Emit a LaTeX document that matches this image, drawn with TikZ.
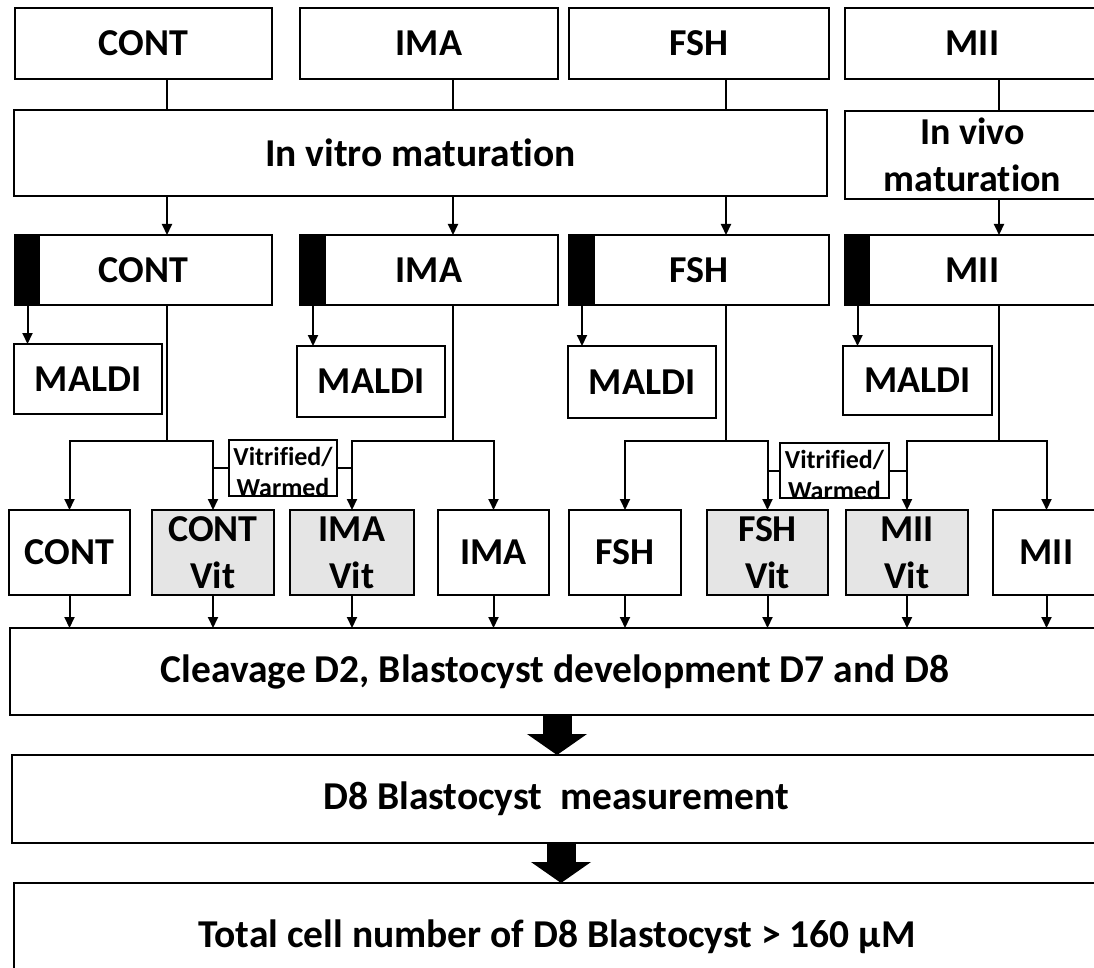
\documentclass[tikz,border=0pt]{standalone}
\usepackage{fontspec}
\setmainfont{Carlito}[Ligatures=CommonOff]
\usetikzlibrary{arrows.meta}
\newcommand{\bx}[7][]{\node[box,#1,minimum width={(#5-#3)*1pt},minimum height={(#6-#4)*1pt}] (#2) at ({(#3+#5)/2},{(#4+#6)/2}) {#7};}
\newcommand{\barfill}[3]{\node[fill=black,inner sep=0pt,outer sep=0pt,minimum width={(#3-#2)*1pt},minimum height={70pt}] (#1) at ({(#2+#3)/2},270) {};}
\begin{document}
\begin{tikzpicture}[x=1pt,y=-1pt,
  box/.style={draw=black,line width=2.6pt,fill=white,inner sep=0pt,outer sep=0pt,font=\bfseries\fontsize{38}{47}\selectfont,align=center},
  vitbox/.style={fill=black!10},
  small/.style={line width=2.4pt},
  smalltext/.style={inner sep=0pt,align=center,font=\bfseries\fontsize{26}{31}\selectfont},
  big/.style={font=\bfseries\fontsize{39.5}{48}\selectfont},
  ivmfont/.style={font=\bfseries\fontsize{39.5}{48}\selectfont},
  conn/.style={line width=2pt},
  arr/.style={conn,-{Triangle[length=11pt,width=10pt]}},
  fat/.style={line width=29pt,-{Triangle[length=21pt,width=59pt]}}]
\useasboundingbox (0,0) rectangle (1094,968);
\clip (0,0) rectangle (1094,968);
\fill[white] (0,0) rectangle (1094,968);
% coordinates
\coordinate (xa) at (167,0);
\coordinate (xb) at (453,0);
\coordinate (xc) at (726,0);
\coordinate (xd) at (999,0);
\coordinate (hy) at (0,441);
\coordinate (xf1) at (557,0);
\coordinate (xf2) at (561,0);
% row 1
\bx{t1}{15}{8}{272}{79}{CONT}
\bx{t2}{300}{8}{558}{79}{IMA}
\bx{t3}{569}{8}{829}{79}{FSH}
\bx{t4}{845}{8}{1100}{79}{MII}
% maturation
\bx[ivmfont]{ivm}{14}{110}{827}{196}{In vitro maturation}
\bx{ivv}{845}{111}{1100}{199}{In vivo\\maturation}
% row 3
\bx{m1}{15}{235}{272}{305}{CONT}
\bx{m2}{300}{235}{558}{305}{IMA}
\bx{m3}{569}{235}{829}{305}{FSH}
\bx{m4}{845}{235}{1100}{305}{MII}
\barfill{k1}{15}{40}
\barfill{k2}{300}{326}
\barfill{k3}{569}{595}
\barfill{k4}{845}{870}
% MALDI
\bx{d1}{14}{344}{162}{414}{MALDI}
\bx{d2}{297}{346}{445}{417}{MALDI}
\bx{d3}{568}{346}{716}{418}{MALDI}
\bx{d4}{843}{346}{992}{415}{MALDI}
% vitrified boxes
\bx[small]{v1}{229}{440}{337}{496}{}
\bx[small]{v2}{780}{443}{889}{498}{}
\node[smalltext] (v1t) at ([yshift=-4pt]v1.center) {Vitrified/\\Warmed};
\node[smalltext] (v2t) at ([yshift=-4pt]v2.center) {Vitrified/\\Warmed};
% row 4
\bx{r1}{9}{510}{130}{595}{CONT}
\bx[vitbox]{r2}{152}{510}{274}{595}{CONT\\Vit}
\bx[vitbox]{r3}{290}{510}{414}{595}{IMA\\Vit}
\bx{r4}{438}{510}{549}{595}{IMA}
\bx{r5}{569}{510}{681}{595}{FSH}
\bx[vitbox]{r6}{707}{510}{828}{595}{FSH\\Vit}
\bx[vitbox]{r7}{846}{510}{968}{595}{MII\\Vit}
\bx{r8}{993}{510}{1100}{595}{MII}
% bottom boxes
\bx[big]{cl}{10}{628}{1100}{715}{Cleavage D2, Blastocyst development D7 and D8}
\bx[big]{d8}{12}{755}{1100}{843}{D8 Blastocyst~ measurement}
\bx[big]{tot}{14}{883}{1100}{990}{Total cell number of D8 Blastocyst > 160 µM}
% connectors row 1 -> maturation
\draw[conn] (t1.south -| xa) -- (ivm.north -| xa);
\draw[conn] (t2.south -| xb) -- (ivm.north -| xb);
\draw[conn] (t3.south -| xc) -- (ivm.north -| xc);
\draw[conn] (t4.south -| xd) -- (ivv.north -| xd);
% maturation -> row 3
\draw[arr] (ivm.south -| xa) -- (m1.north -| xa);
\draw[arr] (ivm.south -| xb) -- (m2.north -| xb);
\draw[arr] (ivm.south -| xc) -- (m3.north -| xc);
\draw[arr] (ivv.south -| xd) -- (m4.north -| xd);
% MALDI arrows
\draw[arr] (k1.south) -- (k1.south |- d1.north);
\draw[arr] (k2.south) -- (k2.south |- d2.north);
\draw[arr] (k3.south) -- (k3.south |- d3.north);
\draw[arr] (k4.south) -- (k4.south |- d4.north);
% branches
\draw[conn] (m1.south -| xa) -- (hy -| xa);
\draw[arr] (hy -| xa) -| (r1.north);
\draw[arr] (hy -| xa) -| (r2.north);
\draw[conn] (m2.south -| xb) -- (hy -| xb);
\draw[arr] (hy -| xb) -| (r3.north);
\draw[arr] (hy -| xb) -| (r4.north);
\draw[conn] (m3.south -| xc) -- (hy -| xc);
\draw[arr] (hy -| xc) -| (r5.north);
\draw[arr] (hy -| xc) -| (r6.north);
\draw[conn] (m4.south -| xd) -- (hy -| xd);
\draw[arr] (hy -| xd) -| (r7.north);
\draw[arr] (hy -| xd) -| (r8.north);
\draw[conn] (v1.west) -- (v1.west -| r2.north);
\draw[conn] (v1.east) -- (v1.east -| r3.north);
\draw[conn] (v2.west) -- (v2.west -| r6.north);
\draw[conn] (v2.east) -- (v2.east -| r7.north);
% row 4 -> cleavage
\foreach \n in {r1,r2,r3,r4,r5,r6,r7,r8}
  \draw[arr] (\n.south) -- (\n.south |- cl.north);
% fat arrows
\draw[fat] (cl.south -| xf1) -- (d8.north -| xf1);
\draw[fat] (d8.south -| xf2) -- (tot.north -| xf2);
\end{tikzpicture}
\end{document}
